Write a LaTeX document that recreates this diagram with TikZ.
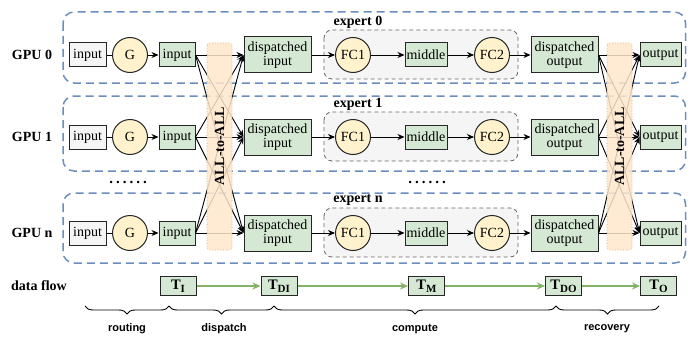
\documentclass[tikz,border=0pt]{standalone}
\usepackage{fontspec}
\setmainfont{Liberation Serif}
\setsansfont{Liberation Sans}
\usetikzlibrary{arrows.meta,decorations.pathreplacing}
\definecolor{gpublue}{HTML}{6C8EBF}
\definecolor{grn}{HTML}{D5E8D4}
\definecolor{grnline}{HTML}{82B366}
\definecolor{yel}{HTML}{FFF2CC}
\definecolor{org}{HTML}{FFE6CC}
\definecolor{orgline}{HTML}{E0A040}
\definecolor{expfill}{HTML}{F5F5F5}
\definecolor{expline}{HTML}{666666}
\tikzset{
  gpubox/.style={draw=gpublue,line width=1.5pt,dash pattern=on 8pt off 5pt,rounded corners=11pt},
  expbox/.style={draw=expline,fill=expfill,line width=0.8pt,dash pattern=on 4pt off 3pt,rounded corners=8pt},
  graybox/.style={draw=black!85,fill=expfill,line width=1pt,minimum width=37pt,minimum height=24pt,inner sep=0pt},
  greenbox/.style={draw=black!85,fill=grn,line width=1pt,minimum height=24pt,inner sep=0pt,align=center},
  circ/.style={circle,draw=black!85,fill=yel,line width=1pt,minimum size=35pt,inner sep=0pt},
  arr/.style={-{Stealth[length=7pt,width=6pt]},line width=0.9pt},
  plainline/.style={line width=0.9pt},
  flowarr/.style={-{Stealth[length=8pt,width=7pt]},draw=grnline,line width=1.3pt},
  tbox/.style={draw=black!85,fill=grn,line width=1pt,minimum width=36pt,minimum height=19pt,inner sep=1pt,font=\fontsize{14.5}{14.5}\selectfont\bfseries},
  a2abox/.style={rotate=90,draw=orgline,fill=org,fill opacity=0.85,text opacity=1,line width=0.7pt,dotted,rounded corners=3pt,minimum width=207pt,minimum height=25pt,inner sep=0pt,font=\fontsize{14}{14}\selectfont\bfseries},
  rowlabel/.style={font=\fontsize{14}{14}\selectfont\bfseries},
  explabel/.style={font=\fontsize{14}{14}\selectfont\bfseries},
  bracelabel/.style={font=\sffamily\bfseries\fontsize{11}{11}\selectfont},
  bracestyle/.style={decorate,decoration={brace,mirror,amplitude=8pt},line width=0.9pt},
  dotstyle/.style={font=\fontsize{15}{15}\selectfont\bfseries\addfontfeature{LetterSpace=20}}
}
\newcommand{\Tsub}[1]{T\raisebox{-3pt}{\fontsize{11}{11}\selectfont #1}}
\begin{document}
\begin{tikzpicture}[x=1pt,y=-1pt,font=\fontsize{14}{15.5}\selectfont]
\useasboundingbox (0,0) rectangle (688,337);
\foreach \r/\y/\t/\b in {0/55/12/83,1/137/96/171,n/233/193/263}{
  \draw[gpubox] (63,\t) rectangle (685.5,\b);
  \draw[expbox] (324,{\y-25}) rectangle (518,{\y+24});
  \node[explabel] (exp\r) at (358,{\y-33}) {expert \r};
  \node[rowlabel] (gpu\r) at (32,\y) {GPU \r};
  \node[graybox] (in\r) at (87.5,\y) {input};
  \node[circ] (g\r) at (130,\y) {G};
  \node[greenbox,minimum width=36pt] (ip\r) at (177,\y) {input};
  \node[greenbox,minimum width=67pt,minimum height=36pt] (di\r) at (277.5,\y) {dispatched\\[-2pt]input};
  \node[circ] (fca\r) at (353,\y) {FC1};
  \node[greenbox,minimum width=42pt] (mid\r) at (426,\y) {middle};
  \node[circ] (fcb\r) at (492,\y) {FC2};
  \node[greenbox,minimum width=67pt,minimum height=36pt] (do\r) at (564.5,\y) {dispatched\\[-2pt]output};
  \node[greenbox,minimum width=41pt] (out\r) at (660.5,\y) {output};
  \draw[plainline] (in\r) -- (g\r);
  \draw[arr] (g\r) -- (ip\r);
  \draw[arr] (di\r) -- (fca\r);
  \draw[arr] (fca\r) -- (mid\r);
  \draw[arr] (mid\r) -- (fcb\r);
  \draw[arr] (fcb\r) -- (do\r);
}
\foreach \a in {0,1,n}{
  \foreach \b in {0,1,n}{
    \draw[arr] (ip\a.east) -- (di\b.west);
    \draw[arr] (do\a.east) -- (out\b.west);
  }
}
\node[a2abox] (atoa1) at (219.5,146.5) {ALL-to-ALL};
\node[a2abox] (atoa2) at (619.5,146.5) {ALL-to-ALL};
\node[dotstyle] (dots1) at (128,182) {......};
\node[dotstyle] (dots2) at (427,182) {......};
% data flow
\node[rowlabel] (dfl) at (39,286) {data flow};
\node[tbox] (ti) at (178,286) {\Tsub{I}};
\node[tbox] (tdi) at (279,286) {\Tsub{DI}};
\node[tbox] (tm) at (426.5,286) {\Tsub{M}};
\node[tbox] (tdo) at (563.5,286) {\Tsub{DO}};
\node[tbox] (to) at (658.5,286) {\Tsub{O}};
\draw[flowarr] (ti) -- (tdi);
\draw[flowarr] (tdi) -- (tm);
\draw[flowarr] (tm) -- (tdo);
\draw[flowarr] (tdo) -- (to);
% braces
\coordinate (b0) at (85,306);
\coordinate (b1) at (169,306);
\coordinate (b2) at (274,306);
\coordinate (b3) at (556,306);
\coordinate (b4) at (659,306);
\draw[bracestyle] (b0) -- (b1);
\draw[bracestyle] (b1) -- (b2);
\draw[bracestyle] (b2) -- (b3);
\draw[bracestyle] (b3) -- (b4);
\node[bracelabel] (l1) at (127,329) {routing};
\node[bracelabel] (l2) at (224,329) {dispatch};
\node[bracelabel] (l3) at (415,329) {compute};
\node[bracelabel] (l4) at (607,329) {recovery};
\end{tikzpicture}
\end{document}
